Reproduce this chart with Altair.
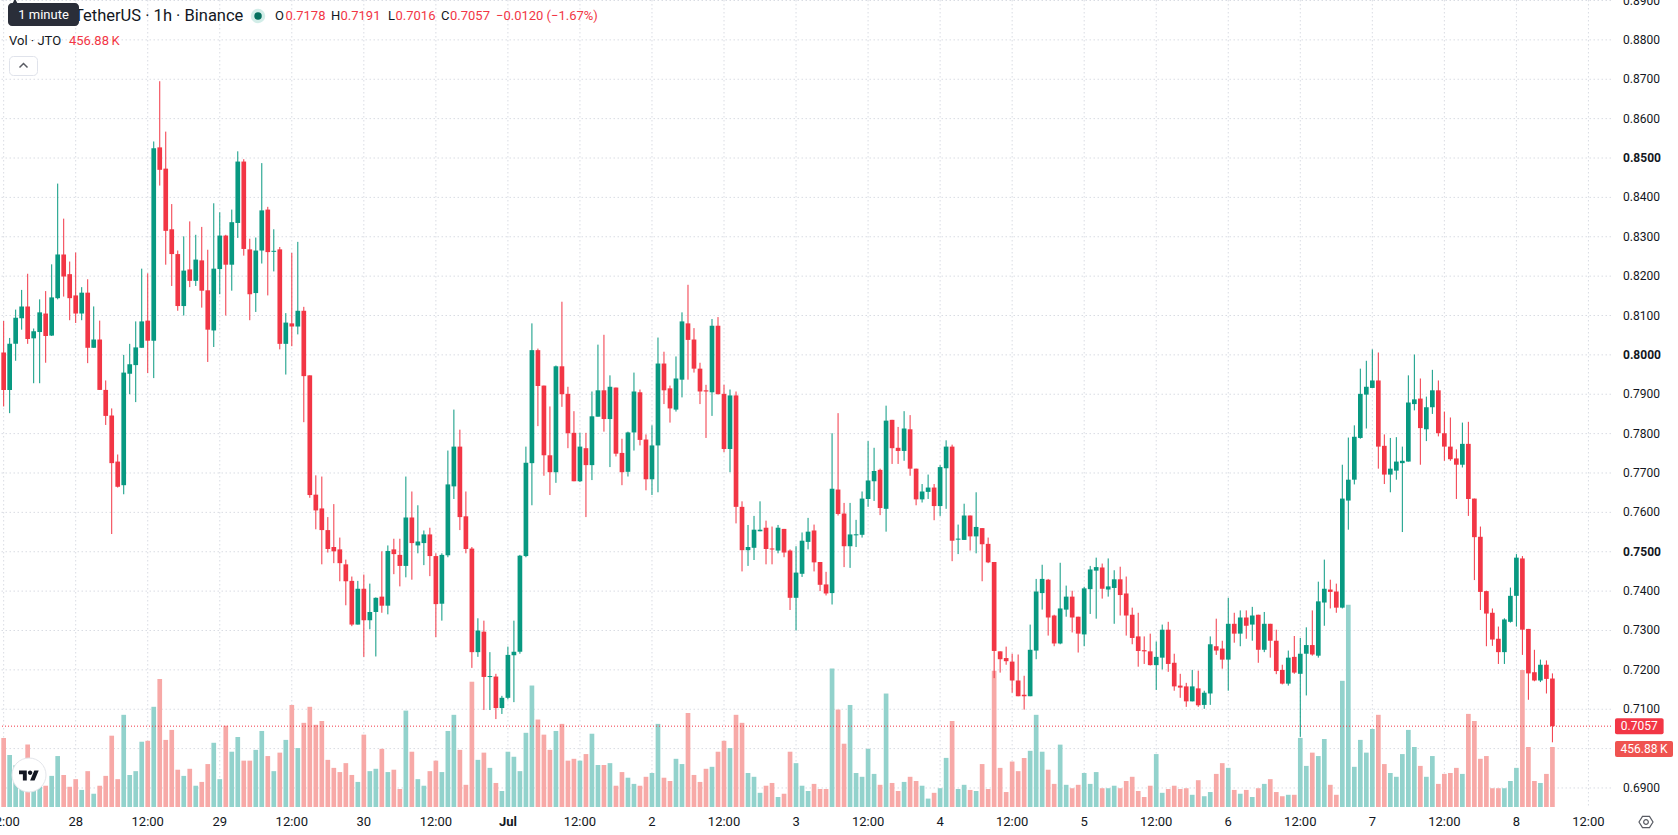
import altair as alt
import pandas as pd

# ---------------- data (hourly JTO/USDT candles, 27 Jun 12:00 .. 8 Jul 06:00) ----------------
hours = list(range(-12, 247))  # hours since 28 Jun 00:00

opens = [
    .8006, .7911, .8028, .8093, .8123, .8042, .8058, .8105, .8049, .8144, .8255, .8205,
    .8151, .8105, .8158, .8018, .8039, .7911, .7846, .7729, .7669, .7952, .7974, .8018,
    .8087, .8036, .8527, .8473, .8319, .8256, .8124, .8217, .8188, .8240, .8164, .8062,
    .8218, .8303, .8229, .8335, .8491, .8268, .8157, .8265, .8369, .8262, .8268, .8028,
    .8080, .8072, .8112, .7948, .7645, .7610, .7555, .7512, .7506, .7468, .7426, .7315,
    .7406, .7326, .7347, .7386, .7363, .7506, .7492, .7464, .7587, .7516, .7522, .7544,
    .7489, .7368, .7491, .7666, .7767, .7590, .7508, .7245, .7297, .7182, .7183, .7103,
    .7129, .7237, .7246, .7489, .7725, .8012, .7922, .7745, .7702, .7971, .7901, .7802,
    .7679, .7763, .7720, .7843, .7910, .7837, .7917, .7751, .7703, .7803, .7905, .7785,
    .7684, .7770, .7978, .7915, .7861, .7937, .8080, .8039, .7965, .7910, .7905, .8074,
    .7901, .7761, .7897, .7614, .7504, .7510, .7552, .7561, .7508, .7503, .7558, .7503,
    .7383, .7444, .7525, .7554, .7474, .7417, .7395, .7658, .7597, .7514, .7542, .7543,
    .7634, .7679, .7708, .7609, .7835, .7764, .7756, .7811, .7711, .7633, .7652, .7663,
    .7616, .7712, .7767, .7531, .7530, .7592, .7539, .7560, .7520, .7474, .7247, .7230,
    .7221, .7173, .7137, .7133, .7249, .7395, .7429, .7338, .7267, .7353, .7386, .7335,
    .7290, .7405, .7452, .7460, .7404, .7408, .7430, .7394, .7340, .7285, .7250, .7247,
    .7212, .7231, .7302, .7218, .7160, .7158, .7120, .7153, .7111, .7140, .7260, .7254,
    .7226, .7317, .7292, .7333, .7315, .7340, .7251, .7317, .7274, .7200, .7165, .7233,
    .7190, .7241, .7263, .7236, .7371, .7404, .7399, .7358, .7630, .7683, .7789, .7899,
    .7916, .7935, .7769, .7696, .7706, .7725, .7729, .7875, .7889, .7811, .7867, .7910,
    .7801, .7767, .7737, .7721, .7774, .7635, .7538, .7400, .7345, .7279, .7245, .7322,
    .7388, .7483, .7304, .7194, .7173, .7213, .7178,
]
highs = [
    .8086, .8043, .8115, .8165, .8206, .8067, .8141, .8162, .8230, .8435, .8346, .8237,
    .8260, .8172, .8192, .8123, .8087, .7935, .7864, .7747, .8000, .8028, .8085, .8219,
    .8207, .8542, .8695, .8567, .8383, .8265, .8301, .8339, .8305, .8325, .8267, .8385,
    .8362, .8305, .8369, .8517, .8497, .8295, .8298, .8487, .8376, .8319, .8274, .8106,
    .8259, .8287, .8122, .7948, .7694, .7691, .7588, .7621, .7536, .7480, .7437, .7426,
    .7442, .7419, .7384, .7501, .7516, .7533, .7533, .7691, .7653, .7618, .7554, .7561,
    .7496, .7496, .7757, .7861, .7810, .7653, .7512, .7331, .7325, .7245, .7190, .7134,
    .7259, .7325, .7492, .7767, .8080, .8016, .7922, .7869, .7973, .8135, .7919, .7857,
    .7802, .7802, .7907, .8026, .8051, .7948, .7917, .7787, .7805, .7955, .7912, .7798,
    .7821, .8044, .8008, .7922, .7996, .8108, .8178, .8068, .7980, .7924, .8091, .8096,
    .7924, .7912, .7907, .7628, .7568, .7591, .7628, .7579, .7564, .7568, .7558, .7506,
    .7514, .7549, .7586, .7569, .7474, .7449, .7801, .7852, .7624, .7624, .7581, .7653,
    .7781, .7764, .7711, .7871, .7835, .7817, .7857, .7847, .7711, .7672, .7696, .7672,
    .7720, .7783, .7772, .7569, .7622, .7592, .7651, .7560, .7536, .7474, .7247, .7259,
    .7241, .7239, .7185, .7315, .7431, .7467, .7431, .7340, .7472, .7414, .7401, .7335,
    .7411, .7464, .7485, .7470, .7483, .7453, .7462, .7437, .7358, .7345, .7285, .7292,
    .7272, .7315, .7322, .7241, .7190, .7167, .7200, .7198, .7147, .7285, .7330, .7274,
    .7383, .7345, .7351, .7351, .7360, .7340, .7347, .7317, .7302, .7213, .7249, .7286,
    .7281, .7308, .7351, .7424, .7480, .7429, .7419, .7721, .7790, .7821, .7965, .7985,
    .8014, .8006, .7798, .7789, .7791, .7767, .7948, .8001, .7940, .7894, .7962, .7935,
    .7856, .7841, .7760, .7828, .7830, .7635, .7564, .7401, .7356, .7310, .7331, .7409,
    .7494, .7489, .7304, .7251, .7226, .7224, .7191,
]
lows = [
    .7869, .7852, .7985, .8064, .8028, .7928, .7928, .7980, .8048, .8141, .8148, .8088,
    .8081, .8088, .7979, .8018, .7911, .7822, .7545, .7663, .7646, .7900, .7880, .8018,
    .7954, .7941, .8430, .8229, .8175, .8112, .8100, .8172, .8175, .8120, .7982, .8020,
    .8154, .8100, .8163, .8297, .8252, .8088, .8109, .8232, .8151, .8212, .8014, .7950,
    .8022, .8052, .7829, .7637, .7557, .7468, .7498, .7471, .7425, .7364, .7311, .7315,
    .7233, .7303, .7234, .7345, .7341, .7443, .7412, .7435, .7429, .7496, .7466, .7438,
    .7283, .7325, .7486, .7634, .7555, .7496, .7205, .7233, .7098, .7098, .7075, .7088,
    .7125, .7118, .7241, .7486, .7618, .7819, .7693, .7644, .7675, .7868, .7763, .7679,
    .7677, .7588, .7682, .7843, .7805, .7715, .7742, .7669, .7691, .7757, .7770, .7656,
    .7644, .7651, .7875, .7828, .7856, .7892, .7937, .7955, .7875, .7789, .7845, .7900,
    .7753, .7702, .7572, .7450, .7464, .7479, .7552, .7468, .7468, .7496, .7486, .7352,
    .7300, .7436, .7506, .7450, .7400, .7389, .7366, .7592, .7461, .7459, .7512, .7536,
    .7614, .7629, .7593, .7551, .7723, .7723, .7731, .7693, .7618, .7625, .7634, .7580,
    .7591, .7609, .7476, .7494, .7530, .7503, .7496, .7425, .7471, .7179, .7193, .7213,
    .7142, .7133, .7099, .7133, .7227, .7353, .7287, .7260, .7265, .7335, .7295, .7244,
    .7260, .7342, .7330, .7381, .7386, .7317, .7338, .7287, .7265, .7208, .7215, .7211,
    .7149, .7201, .7195, .7147, .7129, .7106, .7120, .7106, .7101, .7111, .7238, .7203,
    .7147, .7269, .7260, .7279, .7274, .7218, .7245, .7231, .7189, .7163, .7160, .7190,
    .7030, .7135, .7236, .7231, .7312, .7356, .7345, .7356, .7556, .7671, .7787, .7813,
    .7916, .7711, .7672, .7651, .7683, .7550, .7729, .7859, .7721, .7781, .7850, .7793,
    .7731, .7731, .7634, .7714, .7591, .7428, .7352, .7260, .7261, .7215, .7215, .7320,
    .7310, .7238, .7124, .7171, .7169, .7140, .7016,
]
closes = [
    .7911, .8028, .8094, .8123, .8040, .8060, .8108, .8048, .8146, .8255, .8199, .8144,
    .8105, .8158, .8018, .8039, .7911, .7845, .7725, .7665, .7955, .7976, .8019, .8085,
    .8036, .8525, .8470, .8315, .8256, .8124, .8214, .8188, .8242, .8163, .8064, .8219,
    .8303, .8229, .8337, .8491, .8269, .8154, .8265, .8367, .8261, .8264, .8028, .8082,
    .8072, .8112, .7946, .7644, .7605, .7555, .7507, .7501, .7471, .7425, .7315, .7406,
    .7326, .7347, .7383, .7363, .7502, .7494, .7464, .7587, .7522, .7526, .7544, .7489,
    .7367, .7492, .7671, .7767, .7588, .7507, .7245, .7300, .7182, .7184, .7103, .7129,
    .7238, .7246, .7490, .7726, .8012, .7921, .7745, .7702, .7971, .7900, .7801, .7679,
    .7767, .7720, .7844, .7910, .7837, .7919, .7749, .7702, .7803, .7907, .7784, .7684,
    .7770, .7978, .7910, .7864, .7940, .8085, .8038, .7965, .7907, .7907, .8074, .7900,
    .7761, .7897, .7614, .7504, .7512, .7556, .7556, .7507, .7506, .7561, .7498, .7383,
    .7447, .7528, .7551, .7473, .7416, .7394, .7660, .7596, .7514, .7544, .7544, .7635,
    .7681, .7705, .7611, .7833, .7763, .7756, .7813, .7711, .7633, .7653, .7663, .7616,
    .7715, .7767, .7528, .7533, .7592, .7539, .7563, .7519, .7473, .7248, .7227, .7222,
    .7173, .7133, .7133, .7251, .7399, .7431, .7333, .7267, .7356, .7386, .7333, .7292,
    .7407, .7455, .7461, .7406, .7412, .7430, .7390, .7338, .7281, .7248, .7247, .7212,
    .7233, .7302, .7215, .7158, .7155, .7120, .7158, .7110, .7142, .7265, .7249, .7226,
    .7317, .7292, .7333, .7312, .7338, .7251, .7317, .7274, .7197, .7165, .7231, .7193,
    .7241, .7263, .7239, .7374, .7406, .7398, .7358, .7635, .7683, .7792, .7901, .7919,
    .7935, .7767, .7696, .7711, .7729, .7731, .7879, .7887, .7814, .7867, .7910, .7801,
    .7767, .7735, .7721, .7774, .7634, .7537, .7398, .7343, .7277, .7245, .7328, .7388,
    .7485, .7302, .7191, .7173, .7213, .7177, .7057,
]
volumes_k = [
    526, 396, 317, 300, 475, 250, 230, 162, 237, 388, 244, 154,
    212, 130, 273, 101, 162, 237, 543, 212, 702, 244, 273, 497,
    504, 763, 975, 511, 587, 284, 237, 291, 162, 191, 327, 489,
    212, 619, 421, 533, 353, 353, 435, 579, 388, 273, 414, 511,
    777, 449, 641, 763, 626, 655, 359, 298, 266, 334, 244, 191,
    551, 273, 291, 443, 266, 284, 137, 734, 421, 212, 162, 273,
    353, 266, 579, 702, 435, 169, 954, 359, 414, 298, 183, 122,
    421, 382, 273, 565, 925, 666, 551, 435, 579, 633, 353, 367,
    353, 403, 558, 320, 320, 334, 162, 266, 223, 176, 162, 230,
    259, 633, 223, 198, 367, 327, 716, 244, 191, 291, 306, 421,
    504, 449, 702, 641, 259, 230, 108, 162, 183, 76, 101, 421,
    334, 162, 122, 176, 137, 137, 1054, 742, 482, 777, 259, 230,
    443, 252, 169, 864, 183, 122, 191, 230, 198, 162, 64, 108,
    143, 374, 655, 137, 169, 130, 122, 327, 137, 1037, 298, 114,
    346, 273, 374, 428, 702, 421, 284, 176, 475, 169, 143, 169,
    259, 176, 266, 143, 143, 162, 143, 198, 230, 122, 76, 162,
    403, 108, 137, 162, 137, 143, 93, 204, 82, 114, 252, 334,
    298, 130, 101, 130, 76, 143, 176, 212, 114, 82, 93, 93,
    526, 313, 414, 388, 518, 169, 93, 961, 1541, 306, 511, 414,
    594, 702, 327, 259, 230, 403, 587, 457, 313, 230, 388, 176,
    252, 259, 298, 252, 709, 655, 367, 388, 143, 143, 143, 198,
    298, 1044, 457, 198, 183, 252, 456.88,
]

price_ticks = [round(0.69 + 0.01 * i, 2) for i in range(21)]
time_ticks = list(range(-12, 253, 12))
time_labels = ["12:00", "28", "12:00", "29", "12:00", "30", "12:00", "Jul", "12:00", "2",
               "12:00", "3", "12:00", "4", "12:00", "5", "12:00", "6", "12:00", "7",
               "12:00", "8", "12:00"]

assert len(hours) == len(opens) == len(highs) == len(lows) == len(closes) == len(volumes_k)

# ---------------- styling ----------------
UP, DOWN = "#089981", "#F23645"
VUP, VDOWN = "#92D2CC", "#F7A9A7"
TEXT = "#131722"
GRID = "#D9DCE3"
FONT = "Roboto"
W, H = 1611, 807
P_DOM = [0.68517, 0.89013]
V_DOM = [0, 6145]

df = pd.DataFrame(dict(h=hours, o=opens, hi=highs, lo=lows, c=closes, v=volumes_k))
df["dir"] = ["up" if c >= o else "down" for o, c in zip(df.o, df.c)]
mid = (df.o + df.c) / 2
half = ((df.o - df.c).abs() / 2).clip(lower=0.00013)
df["top"] = mid + half
df["bot"] = mid - half
df["x0"] = df.h - 0.39
df["x1"] = df.h + 0.39
df["zero"] = 0.0

xs = alt.Scale(domain=[-12.61, 255.76], nice=False, zero=False)
ps = alt.Scale(domain=P_DOM, nice=False, zero=False)
vs = alt.Scale(domain=V_DOM, nice=False, zero=False)

candle_col = alt.condition("datum.dir == 'up'", alt.value(UP), alt.value(DOWN))
vol_col = alt.condition("datum.dir == 'up'", alt.value(VUP), alt.value(VDOWN))

one = pd.DataFrame({"k": [0]})

# grid
hgrid = alt.Chart(pd.DataFrame({"p": price_ticks})).mark_rule(
    color=GRID, strokeDash=[1.5, 2.5], strokeWidth=1
).encode(y=alt.Y("p:Q", scale=ps, axis=None))
vgrid = alt.Chart(pd.DataFrame({"t": time_ticks})).mark_rule(
    color=GRID, strokeDash=[1.5, 2.5], strokeWidth=1
).encode(x=alt.X("t:Q", scale=xs, axis=None))

base = alt.Chart(df)
vol = base.mark_rect().encode(
    x=alt.X("x0:Q", scale=xs, axis=None), x2="x1:Q",
    y=alt.Y("v:Q", scale=vs, axis=None), y2="zero:Q",
    color=vol_col,
)
wick = base.mark_rule(strokeWidth=1).encode(
    x=alt.X("h:Q", scale=xs, axis=None),
    y=alt.Y("lo:Q", scale=ps, axis=None), y2="hi:Q",
    color=candle_col,
)
body = base.mark_rect().encode(
    x=alt.X("x0:Q", scale=xs, axis=None), x2="x1:Q",
    y=alt.Y("bot:Q", scale=ps, axis=None), y2="top:Q",
    color=candle_col,
)

vol_tag = f"{volumes_k[-1]:.2f}\u2009K"
last = pd.DataFrame({"p": [closes[-1]], "v": [volumes_k[-1]],
                     "pl": [f"{closes[-1]:.4f}"], "vl": [vol_tag]})
last_line = alt.Chart(last).mark_rule(color=DOWN, strokeDash=[1, 2], strokeWidth=1).encode(
    y=alt.Y("p:Q", scale=ps, axis=None))

# price axis labels (labels hidden behind the last-price / volume tags are skipped)
def py(p):
    return (P_DOM[1] - p) / (P_DOM[1] - P_DOM[0]) * H
tag_ys = [py(closes[-1]), H - volumes_k[-1] / V_DOM[1] * H + 2]
shown = [p for p in price_ticks if all(abs(py(p) - t) > 11 for t in tag_ys)]
pl = pd.DataFrame({"p": shown, "lab": [f"{p:.4f}" for p in shown],
                   "bold": [round(p * 100) % 5 == 0 for p in shown]})
plabels = alt.Chart(pl).transform_filter("!datum.bold").mark_text(
    align="left", baseline="middle", font=FONT, fontSize=12, color=TEXT
).encode(x=alt.value(1623), y=alt.Y("p:Q", scale=ps, axis=None), text="lab:N")
plabels_b = alt.Chart(pl).transform_filter("datum.bold").mark_text(
    align="left", baseline="middle", font=FONT, fontSize=12, color=TEXT, fontWeight="bold"
).encode(x=alt.value(1623), y=alt.Y("p:Q", scale=ps, axis=None), text="lab:N")

# price / volume tags (rounded boxes)
def rbox(hw):
    r = 0.12
    return (f"M{-hw + r},-0.5H{hw - r}Q{hw},-0.5 {hw},{-0.5 + r}V{0.5 - r}Q{hw},0.5 {hw - r},0.5"
            f"H{-hw + r}Q{-hw},0.5 {-hw},{0.5 - r}V{-0.5 + r}Q{-hw},-0.5 {-hw + r},-0.5Z")
pbox = alt.Chart(last).mark_point(
    shape=rbox(1.52), size=1024, filled=True, opacity=1, color=DOWN, strokeWidth=0
).encode(x=alt.value(1639.3), y=alt.Y("p:Q", scale=ps, axis=None))
ptext = alt.Chart(last).mark_text(
    align="center", baseline="middle", font=FONT, fontSize=12, color="white"
).encode(x=alt.value(1639.3), y=alt.Y("p:Q", scale=ps, axis=None), text="pl:N")
vbox = alt.Chart(last).mark_point(
    shape=rbox(1.8125), size=1024, filled=True, opacity=1,
    color="#EF5350", strokeWidth=0, yOffset=2
).encode(x=alt.value(1644), y=alt.Y("v:Q", scale=vs, axis=None))
vtext = alt.Chart(last).mark_text(
    align="center", baseline="middle", font=FONT, fontSize=12, color="white", yOffset=2
).encode(x=alt.value(1644), y=alt.Y("v:Q", scale=vs, axis=None), text="vl:N")

# time axis labels
tl = pd.DataFrame({"t": time_ticks, "lab": time_labels})
tlabels = alt.Chart(tl).transform_filter("datum.lab != 'Jul'").mark_text(
    align="center", baseline="middle", font=FONT, fontSize=13, color=TEXT
).encode(x=alt.X("t:Q", scale=xs, axis=None), y=alt.value(822), text="lab:N")
tlabels_b = alt.Chart(tl).transform_filter("datum.lab == 'Jul'").mark_text(
    align="center", baseline="middle", font=FONT, fontSize=13, color=TEXT, fontWeight="bold"
).encode(x=alt.X("t:Q", scale=xs, axis=None), y=alt.value(822), text="lab:N")

# logo badge
logo_bg = alt.Chart(one).mark_point(shape="circle", size=1156, filled=True, opacity=1,
                                    color="white", stroke="#E3E5EA", strokeWidth=1).encode(
    x=alt.value(29), y=alt.value(775))
logo_path = ("M-0.2222,0.4444L-0.6111,0.4444L-0.6111,-0.1667L-1,-0.1667L-1,-0.5556L-0.2222,-0.5556Z"
             "M0.5556,0.4444L0.1111,0.4444L0.5278,-0.5556L0.9722,-0.5556Z"
             "M-0.1111,-0.3333a0.2222,0.2222 0 1,0 0.4444,0a0.2222,0.2222 0 1,0 -0.4444,0Z")
logo = alt.Chart(one).mark_point(shape=logo_path, size=400, filled=True, opacity=1,
                                 color="#131722", strokeWidth=0).encode(
    x=alt.value(29), y=alt.value(776))

# settings icon
hexa = alt.Chart(one).mark_point(shape="M-1,0L-0.5,-0.8L0.5,-0.8L1,0L0.5,0.8L-0.5,0.8Z",
                                 size=196, filled=False, color=TEXT, strokeWidth=1.2).encode(
    x=alt.value(1646), y=alt.value(822))
hexc = alt.Chart(one).mark_point(shape="circle", size=22, filled=False, color=TEXT,
                                 strokeWidth=1.2).encode(x=alt.value(1646), y=alt.value(822))

# header legend
def txt(s, x, y, color=TEXT, size=13, weight="normal"):
    return alt.Chart(pd.DataFrame({"s": [s]})).mark_text(
        align="left", baseline="middle", font=FONT, fontSize=size, color=color, fontWeight=weight
    ).encode(x=alt.value(x), y=alt.value(y), text="s:N")

chg = closes[-1] - closes[-2]
pct = chg / closes[-2] * 100
title = txt("TetherUS · 1h · Binance", 74, 16, size=16.5)
ring = alt.Chart(one).mark_point(shape="circle", size=210, filled=True, opacity=0.18,
                                 color=UP, strokeWidth=0).encode(x=alt.value(258), y=alt.value(16))
dot = alt.Chart(one).mark_point(shape="circle", size=56, filled=True, opacity=1,
                                color="#06705E", strokeWidth=0).encode(x=alt.value(258), y=alt.value(16))
o_l = txt("O", 275, 16); o_v = txt(f"{opens[-1]:.4f}", 285.5, 16, DOWN)
h_l = txt("H", 331, 16); h_v = txt(f"{highs[-1]:.4f}", 340.5, 16, DOWN)
l_l = txt("L", 388, 16); l_v = txt(f"{lows[-1]:.4f}", 395.5, 16, DOWN)
c_l = txt("C", 441, 16); c_v = txt(f"{closes[-1]:.4f}", 450, 16, DOWN)
ch_v = txt(f"\u2212{abs(chg):.4f} (\u2212{abs(pct):.2f}%)", 496, 16, DOWN)
vol_l = txt("Vol · JTO", 9, 41); vol_v = txt(vol_tag, 69, 41, DOWN)

tip_arrow = alt.Chart(one).mark_point(shape="M-1,1L0,-1L1,1Z", size=36, filled=True, opacity=1,
                                      color="#2A2E39", strokeWidth=0).encode(
    x=alt.value(15), y=alt.value(1.5))
tip_box = alt.Chart(one).mark_rect(color="#2A2E39", cornerRadius=4).encode(
    x=alt.value(8), x2=alt.value(79), y=alt.value(3), y2=alt.value(26))
tip_txt = alt.Chart(pd.DataFrame({"s": ["1 minute"]})).mark_text(
    align="center", baseline="middle", font=FONT, fontSize=13, color="white"
).encode(x=alt.value(43.5), y=alt.value(15), text="s:N")

btn = alt.Chart(one).mark_rect(fill="white", stroke="#E0E3EB", strokeWidth=1, cornerRadius=4).encode(
    x=alt.value(9.5), x2=alt.value(37.5), y=alt.value(56.5), y2=alt.value(75.5))
chev = alt.Chart(one).mark_point(shape="M-1,0.5L0,-0.5L1,0.5", size=64, filled=False,
                                 color=TEXT, strokeWidth=1.5).encode(x=alt.value(23.5), y=alt.value(65.5))

chart = alt.layer(
    hgrid, vgrid, vol, logo_bg, logo, wick, body, last_line,
    plabels, plabels_b, pbox, ptext, vbox, vtext,
    tlabels, tlabels_b, hexa, hexc,
    title, ring, dot, o_l, o_v, h_l, h_v, l_l, l_v, c_l, c_v, ch_v, vol_l, vol_v,
    tip_arrow, tip_box, tip_txt, btn, chev,
).resolve_scale(y="independent").properties(
    width=W, height=H,
    autosize=alt.AutoSizeParams(type="none"),
    padding={"left": 0, "top": 0, "right": 67, "bottom": 28},
    background="white",
).configure_view(stroke=None)

chart.save("out.html", embed_options={"renderer": "svg", "actions": False})
